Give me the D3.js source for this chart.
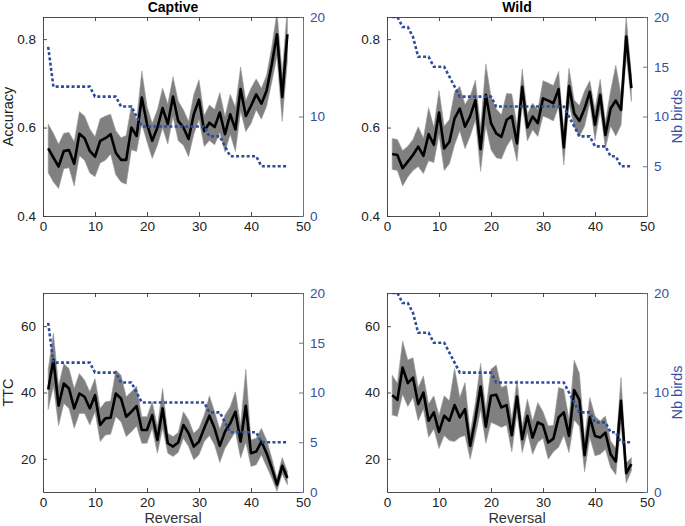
<!DOCTYPE html>
<html>
<head>
<meta charset="utf-8">
<script src="https://cdn.jsdelivr.net/npm/d3@7"></script>
<style>
  body { margin: 0; background: #fff; }
  svg { display: block; font-family: "Liberation Sans", Arial, sans-serif; }
</style>
</head>
<body>
<svg id="chart" width="685" height="526"></svg>
<script>
// reversal number 1..47
const reversals = d3.range(1, 48);

const captiveAcc = [0.553,0.532,0.512,0.547,0.549,0.518,0.586,0.576,0.547,0.534,
  0.570,0.576,0.585,0.543,0.527,0.527,0.600,0.581,0.668,0.608,
  0.570,0.600,0.644,0.608,0.670,0.615,0.600,0.574,0.630,0.663,
  0.592,0.611,0.601,0.634,0.585,0.630,0.596,0.687,0.626,0.649,
  0.675,0.654,0.683,0.743,0.811,0.669,0.811];
const captiveAccSem = [.055,.055,.05,.04,.04,.05,.05,.05,.05,.045,
  .05,.05,.045,.05,.05,.055,.05,.035,.06,.04,
  .04,.04,.045,.045,.045,.045,.04,.04,.045,.045,
  .035,.04,.04,.045,.04,.045,.05,.05,.035,.04,
  .035,.035,.035,.04,.05,.055,.06];

const wildAcc = [0.540,0.538,0.508,0.523,0.538,0.557,0.536,0.585,0.561,0.634,
  0.553,0.568,0.621,0.643,0.602,0.626,0.662,0.551,0.674,0.610,
  0.587,0.579,0.617,0.626,0.564,0.692,0.600,0.625,0.610,0.666,
  0.661,0.655,0.687,0.555,0.694,0.632,0.615,0.643,0.681,0.606,
  0.674,0.583,0.643,0.661,0.640,0.806,0.689];
const wildAccSem = [.035,.035,.04,.035,.035,.045,.04,.06,.04,.05,
  .05,.05,.06,.05,.05,.045,.045,.05,.07,.06,
  .055,.05,.06,.05,.04,.04,.03,.03,.03,.04,
  .04,.04,.04,.04,.04,.03,.035,.04,.025,.035,
  .035,.03,.04,.08,.035,.045,.03];

const captiveTTC = [40.9,49.9,36.0,42.7,41.2,35.2,39.7,38.7,35.2,39.2,
  30.2,32.2,32.4,39.7,38.2,32.7,34.2,35.9,28.7,28.7,
  33.2,25.7,35.2,24.7,23.7,24.9,30.2,27.7,23.7,25.2,
  29.2,33.0,29.2,23.9,28.2,30.7,34.2,25.2,36.0,21.7,
  22.2,25.2,21.7,17.2,12.2,17.9,14.2];
const captiveTTCSem = [6,8,6,6,6,6,6,5,5,5,
  5,5,5,7,7,6,6,6,4,4,
  4,4,6,3,3,3,4,4,4,4,
  4,6,5,5,5,5,6,5,11,4,
  4,4,4,3,2,2.5,2];

const wildTTC = [39.2,37.8,47.5,42.8,44.5,36.5,40.0,31.5,34.0,28.1,
  33.0,31.5,36.2,32.5,35.0,23.9,32.0,41.8,29.7,39.0,
  39.3,35.5,36.2,27.1,38.8,25.9,33.0,26.4,31.0,30.2,
  24.9,26.1,32.5,34.0,26.9,40.7,37.8,21.1,32.5,26.9,
  26.4,27.9,21.4,19.2,37.5,15.7,18.4];
const wildTTCSem = [6,5,8,7,6,5,5,5,5,5,
  6,6,11,6,8,4,5,7,5,8,
  9,6,6,5,5,4,5,5,6,4,
  5,4,9,7,5,9,8,5,6,6,
  5,5,4,4,7,3,2];

// number of birds still in the task at each reversal
const captiveBirds = [17,13,13,13,13,13,13,13,13,12,
  12,12,12,12,11,11,11,10,9,9,
  9,9,9,9,9,9,9,9,9,9,
  9,8,8,8,7,6,6,6,6,6,
  6,5,5,5,5,5,5];
const wildBirds = [20,20,19,19,18,16,16,16,15,15,
  15,14,13,12,12,12,12,12,12,12,
  11,11,11,11,11,11,11,11,11,11,
  11,11,11,11,10,9,8,8,8,7,
  7,7,6,6,5,5,5];

const xTicks = [0, 10, 20, 30, 40, 50];
const accTicks = [0.4, 0.6, 0.8];
const ttcTicks = [20, 40, 60];

const BLUE = '#2c4c9c';
const BLUE_TEXT = '#3550a2';
const AXIS = '#3a3a3a';
const TEXT = '#222';

const svg = d3.select('#chart');

const panels = [
  { id: 'tl', left: 43, right: 303, top: 17, bottom: 216, mean: captiveAcc, sem: captiveAccSem, birds: captiveBirds,
    yDomain: [0.4, 0.85], yTicks: accTicks, yFmt: d3.format('.1f'), birdTicks: [0, 10, 20],
    title: 'Captive', yLabel: 'Accuracy' },
  { id: 'tr', left: 387, right: 647, top: 17, bottom: 216, mean: wildAcc, sem: wildAccSem, birds: wildBirds,
    yDomain: [0.4, 0.85], yTicks: accTicks, yFmt: d3.format('.1f'), birdTicks: [5, 10, 15, 20],
    title: 'Wild', birdLabel: 'Nb birds' },
  { id: 'bl', left: 43, right: 303, top: 293, bottom: 492, mean: captiveTTC, sem: captiveTTCSem, birds: captiveBirds,
    yDomain: [10, 70], yTicks: ttcTicks, yFmt: d3.format('d'), birdTicks: [0, 5, 10, 15, 20],
    yLabel: 'TTC', xLabel: 'Reversal' },
  { id: 'br', left: 387, right: 647, top: 293, bottom: 492, mean: wildTTC, sem: wildTTCSem, birds: wildBirds,
    yDomain: [10, 70], yTicks: ttcTicks, yFmt: d3.format('d'), birdTicks: [0, 10, 20],
    xLabel: 'Reversal', birdLabel: 'Nb birds' }
];

function styleAxis(sel, color, textColor) {
  sel.selectAll('.domain').attr('stroke', color).attr('stroke-width', 0.9);
  sel.selectAll('.tick line').attr('stroke', color).attr('stroke-width', 0.9);
  sel.selectAll('.tick text').attr('fill', textColor).attr('font-size', 13.5);
}

panels.forEach(p => {
  const g = svg.append('g').attr('class', 'panel-' + p.id);

  const x = d3.scaleLinear().domain([0, 50]).range([p.left, p.right]);
  const y = d3.scaleLinear().domain(p.yDomain).range([p.bottom, p.top]);
  const y2 = d3.scaleLinear().domain([0, 20]).range([p.bottom, p.top]);

  g.append('clipPath').attr('id', 'clip-' + p.id)
    .append('rect')
    .attr('x', p.left).attr('y', p.top)
    .attr('width', p.right - p.left).attr('height', p.bottom - p.top);

  const plot = g.append('g').attr('clip-path', `url(#clip-${p.id})`);

  const band = d3.area()
    .x((d, i) => x(reversals[i]))
    .y0((d, i) => y(p.mean[i] - p.sem[i]))
    .y1((d, i) => y(p.mean[i] + p.sem[i]));

  plot.append('path')
    .datum(p.mean)
    .attr('d', band)
    .attr('fill', '#808080')
    .attr('stroke', '#9a9a9a')
    .attr('stroke-width', 0.6);

  const meanLine = d3.line()
    .x((d, i) => x(reversals[i]))
    .y(d => y(d));

  plot.append('path')
    .datum(p.mean)
    .attr('d', meanLine)
    .attr('fill', 'none')
    .attr('stroke', '#000')
    .attr('stroke-width', 2.6)
    .attr('stroke-linejoin', 'round');

  const birdLine = d3.line()
    .x((d, i) => x(reversals[i]))
    .y(d => y2(d));

  plot.append('path')
    .datum(p.birds)
    .attr('d', birdLine)
    .attr('fill', 'none')
    .attr('stroke', BLUE)
    .attr('stroke-width', 2.6)
    .attr('stroke-dasharray', '3,2.3');

  // axes, ticks point inward like the original
  const axL = g.append('g')
    .attr('transform', `translate(${p.left},0)`)
    .call(d3.axisLeft(y).tickValues(p.yTicks).tickFormat(p.yFmt).tickSizeInner(-4).tickSizeOuter(0).tickPadding(7));
  styleAxis(axL, AXIS, TEXT);

  const axB = g.append('g')
    .attr('transform', `translate(0,${p.bottom})`)
    .call(d3.axisBottom(x).tickValues(xTicks).tickSizeInner(-4).tickSizeOuter(0).tickPadding(5));
  styleAxis(axB, AXIS, TEXT);

  const axT = g.append('g')
    .attr('transform', `translate(0,${p.top})`)
    .call(d3.axisTop(x).tickValues(xTicks).tickFormat('').tickSizeInner(-4).tickSizeOuter(0));
  styleAxis(axT, AXIS, TEXT);

  const axR = g.append('g')
    .attr('transform', `translate(${p.right},0)`)
    .call(d3.axisRight(y2).tickValues(p.birdTicks).tickSizeInner(-4).tickSizeOuter(0).tickPadding(7));
  styleAxis(axR, '#5567a8', BLUE_TEXT);

  const midX = (p.left + p.right) / 2;
  const midY = (p.top + p.bottom) / 2;

  if (p.title) {
    g.append('text')
      .attr('x', midX).attr('y', 12)
      .attr('text-anchor', 'middle')
      .attr('font-size', 14).attr('font-weight', 'bold')
      .attr('fill', '#000')
      .text(p.title);
  }
  if (p.yLabel) {
    g.append('text')
      .attr('transform', `translate(13,${midY}) rotate(-90)`)
      .attr('text-anchor', 'middle')
      .attr('font-size', 14.5)
      .attr('fill', TEXT)
      .text(p.yLabel);
  }
  if (p.xLabel) {
    g.append('text')
      .attr('x', midX).attr('y', 523)
      .attr('text-anchor', 'middle')
      .attr('font-size', 14.5)
      .attr('fill', '#333')
      .text(p.xLabel);
  }
  if (p.birdLabel) {
    g.append('text')
      .attr('transform', `translate(682,${midY}) rotate(-90)`)
      .attr('text-anchor', 'middle')
      .attr('font-size', 14.5)
      .attr('fill', BLUE_TEXT)
      .text(p.birdLabel);
  }
});
</script>
</body>
</html>
